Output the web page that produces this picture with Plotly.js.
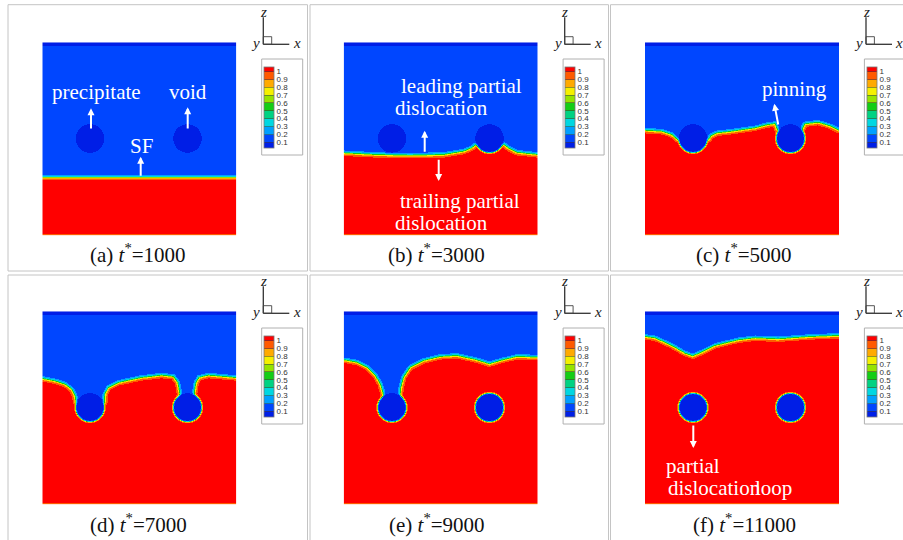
<!DOCTYPE html>
<html><head><meta charset="utf-8">
<script src="https://cdn.plot.ly/plotly-3.0.1.min.js"></script>
<style>html,body{margin:0;padding:0;background:#fff}#chart{width:903px;height:540px}</style>
</head><body><div id="chart"></div>
<script>
// ---------------- data ----------------
const panelLabels = ['(a)', '(b)', '(c)', '(d)', '(e)', '(f)'];
const timeValues = [1000, 3000, 5000, 7000, 9000, 11000];
const levelTicks = [0.1, 0.2, 0.3, 0.4, 0.5, 0.6, 0.7, 0.8, 0.9, 1];
const levelText = ['0.1', '0.2', '0.3', '0.4', '0.5', '0.6', '0.7', '0.8', '0.9', '1'];

// particles (precipitate, void): centre x, centre z, radius (grid units)
const circleX = [48, 145.5];
const circleZ = [96.5, 96.5];
const circleR = [14.4, 14.4];

// dislocation (SF / slipped region) front, x -> z, per panel
const ifaceX_a = [0, 194];
const ifaceZ_a = [57.6, 57.6];
const ifaceX_b = [0, 32.6, 66, 99.3, 119.3, 127.6, 132, 146, 160, 164.3, 172.6, 194];
const ifaceZ_b = [82, 80.3, 79.6, 80.3, 83.6, 87, 90.3, 90.3, 90.3, 87, 82.6, 80.3];
const ifaceX_c = [0, 16.7, 26.7, 31.7, 40, 48, 56, 64, 66, 72, 87, 110, 123, 130, 132, 137, 145, 153, 157.5, 160, 173, 185, 194];
const ifaceZ_c = [104.6, 103.6, 100.3, 96, 92, 92, 92, 96, 99, 102, 103.6, 107, 110.3, 111.3, 106, 100, 98, 100, 106, 111, 112.6, 109, 104.6];
const ifaceX_d = [0, 13, 23, 29.7, 33, 34, 48, 62.5, 63, 66.4, 76.4, 99.7, 119.7, 131.4, 135.7, 137.5, 138.2, 145, 151.8, 152.5, 154, 157, 166.4, 193, 194];
const ifaceZ_d = [125.4, 123, 119.7, 114.7, 108, 101.4, 101, 101.4, 109.7, 116.4, 121.4, 126.4, 128.7, 127.4, 121.4, 111.4, 104, 100, 104, 111.4, 121, 126.5, 128.7, 126.4, 126.4];
const ifaceX_e = [0, 13, 23, 31.3, 36.3, 38.6, 40, 48, 56, 56.5, 57, 59.6, 66.3, 79.6, 96.3, 113, 133, 145.3, 156.3, 173, 194];
const ifaceZ_e = [144, 141.7, 136.7, 128.4, 120, 112, 106, 100, 106, 112, 116.7, 126.7, 136.7, 143.4, 147.4, 148.4, 144, 140, 143.4, 147.4, 146.7];
const ifaceX_f = [0, 10, 26.7, 40, 47.7, 56.7, 70, 93.3, 110, 133.3, 146.7, 166.7, 194];
const ifaceZ_f = [167.4, 166, 158.4, 150.7, 148, 151.7, 158.4, 164, 166, 165, 166, 167.4, 168.4];

// field levels
const phiMatrix = 0.15, phiSlipped = 1.03, phiParticle = 0.06, phiTop = 0.07, phiBottom = 0.95;

// ---------------- construction ----------------
const W = 903, H = 540;
const fx = p => p / W;
const fy = p => 1 - p / H;
const NX = 194, NZ = 193;
const W_IF = 0.9, W_P = 0.42;

function buildField(px, pz) {
  const out = [];
  const n = px.length;
  for (let j = 0; j < NZ; j++) {
    const zc = j + 0.5;
    const row = new Array(NX);
    for (let i = 0; i < NX; i++) {
      const xc = i + 0.5;
      let h = pz[n - 1];
      for (let k = 0; k < n - 1; k++) {
        if (xc >= px[k] && xc <= px[k + 1]) {
          const t = (xc - px[k]) / (px[k + 1] - px[k]);
          h = pz[k] + t * (pz[k + 1] - pz[k]);
          break;
        }
      }
      let dmin = Infinity;
      for (let k = 0; k < n - 1; k++) {
        const ax = px[k], az = pz[k], vx = px[k + 1] - ax, vz = pz[k + 1] - az;
        const L2 = vx * vx + vz * vz;
        let t = ((xc - ax) * vx + (zc - az) * vz) / L2;
        t = Math.max(0, Math.min(1, t));
        const dx = xc - (ax + t * vx), dz = zc - (az + t * vz);
        const d = Math.sqrt(dx * dx + dz * dz);
        if (d < dmin) dmin = d;
      }
      const sd = zc > h ? dmin : -dmin;
      let phi = phiMatrix + (phiSlipped - phiMatrix) / (1 + Math.exp(sd / W_IF));
      for (let c = 0; c < circleX.length; c++) {
        const r = Math.hypot(xc - circleX[c], zc - circleZ[c]);
        const w = 1 / (1 + Math.exp((r - circleR[c]) / W_P));
        phi = phi * (1 - w) + phiParticle * w;
      }
      if (zc > NZ - 4.4) phi = phiTop;
      if (zc < 1.5) phi = phiBottom;
      row[i] = phi;
    }
    out.push(row);
  }
  return out;
}

const zmin = 0.03, zmax = 1.06;
const bandColors = ['rgb(0,30,230)', 'rgb(0,70,255)', 'rgb(0,160,255)', 'rgb(0,215,225)', 'rgb(0,210,130)',
  'rgb(20,205,20)', 'rgb(150,228,0)', 'rgb(245,240,0)', 'rgb(255,170,0)', 'rgb(255,90,0)', 'rgb(255,0,0)'];
function discreteScale() {
  const edges = [zmin].concat(levelTicks).concat([zmax]);
  const s = [];
  for (let k = 0; k < bandColors.length; k++) {
    const a = (edges[k] - zmin) / (zmax - zmin), b = (edges[k + 1] - zmin) / (zmax - zmin);
    s.push([a, bandColors[k]]);
    s.push([b, bandColors[k]]);
  }
  s[0][0] = 0; s[s.length - 1][0] = 1;
  return s;
}
const cscale = discreteScale();

const ifaces = [[ifaceX_a, ifaceZ_a], [ifaceX_b, ifaceZ_b], [ifaceX_c, ifaceZ_c],
                [ifaceX_d, ifaceZ_d], [ifaceX_e, ifaceZ_e], [ifaceX_f, ifaceZ_f]];
const lefts = [42.3, 343.7, 645, 42.3, 343.7, 645];
const tops = [42.3, 42.3, 42.3, 311.3, 311.3, 311.3];
const HM_W = 194, HM_H = 193.2;

const data = [];
const layout = {
  width: W, height: H, margin: {l: 0, r: 0, t: 0, b: 0},
  paper_bgcolor: '#fff', plot_bgcolor: '#fff', showlegend: false,
  shapes: [], annotations: []
};
const serif = '"Liberation Serif"';

for (let p = 0; p < 6; p++) {
  const L = lefts[p], T = tops[p];
  const sfx = p === 0 ? '' : String(p + 1);
  data.push({
    type: 'heatmap', z: buildField(ifaces[p][0], ifaces[p][1]),
    x0: 0.5, dx: 1, y0: 0.5, dy: 1,
    xaxis: 'x' + sfx, yaxis: 'y' + sfx,
    zmin: zmin, zmax: zmax, colorscale: cscale, zsmooth: false, hoverinfo: 'skip',
    showscale: true,
    colorbar: {
      x: fx(L + 221.7), xanchor: 'left', xpad: 0,
      y: fy(T + 24.4), yanchor: 'top', ypad: 0,
      len: 80.6, lenmode: 'pixels', thickness: 10.3, thicknessmode: 'pixels',
      tickmode: 'array', tickvals: levelTicks, ticktext: levelText,
      ticks: 'inside', ticklen: 10.3, tickwidth: 0.7, tickcolor: 'rgba(60,60,60,0.75)',
      tickfont: {family: '"Liberation Sans"', size: 8, color: '#333'},
      outlinecolor: '#777', outlinewidth: 0.8, borderwidth: 0, bgcolor: 'rgba(0,0,0,0)'
    }
  });
  layout['xaxis' + sfx] = {domain: [fx(L), fx(L + HM_W)], range: [0, NX], visible: false, fixedrange: true, anchor: 'y' + sfx};
  layout['yaxis' + sfx] = {domain: [fy(T + HM_H), fy(T)], range: [0, NZ], visible: false, fixedrange: true, anchor: 'x' + sfx};

  // colour-bar frame
  layout.shapes.push({type: 'rect', xref: 'paper', yref: 'paper',
    x0: fx(L + 219.4), x1: fx(L + 260.4), y0: fy(T + 16.7), y1: fy(T + 112.7),
    line: {color: '#b0b0b0', width: 1}});
  // axis triad
  const tri = {color: '#333', width: 1.3};
  layout.shapes.push({type: 'line', xref: 'paper', yref: 'paper', x0: fx(L + 221), x1: fx(L + 221), y0: fy(T - 25), y1: fy(T + 2), line: tri});
  layout.shapes.push({type: 'line', xref: 'paper', yref: 'paper', x0: fx(L + 221), x1: fx(L + 247), y0: fy(T + 2), y1: fy(T + 2), line: tri});
  layout.shapes.push({type: 'rect', xref: 'paper', yref: 'paper', x0: fx(L + 221), x1: fx(L + 229.4), y0: fy(T - 5.6), y1: fy(T + 2), line: {color: '#444', width: 0.9}});
  const tf = {family: serif, size: 15, color: '#222'};
  layout.annotations.push({xref: 'paper', yref: 'paper', x: fx(L + 221), y: fy(T - 30), text: '<i>z</i>', showarrow: false, font: tf, xanchor: 'center', yanchor: 'middle'});
  layout.annotations.push({xref: 'paper', yref: 'paper', x: fx(L + 213.5), y: fy(T + 1), text: '<i>y</i>', showarrow: false, font: tf, xanchor: 'center', yanchor: 'middle'});
  layout.annotations.push({xref: 'paper', yref: 'paper', x: fx(L + 254.4), y: fy(T + 0.5), text: '<i>x</i>', showarrow: false, font: tf, xanchor: 'center', yanchor: 'middle'});
}

// panel frames
const frameCols = [[8, 307.5], [310, 608.5], [610.5, 912]];
const frameRows = [[4.7, 271], [275, 548]];
for (const r of frameRows) for (const c of frameCols) {
  layout.shapes.push({type: 'rect', xref: 'paper', yref: 'paper', x0: fx(c[0]), x1: fx(c[1]), y0: fy(r[0]), y1: fy(r[1]),
    line: {color: '#c4c4c4', width: 1}});
}

// captions
const capX = [138.3, 436.7, 744, 138.3, 437.2, 744.5];
const capY = [253, 253, 253, 523.5, 523.5, 523.5];
for (let p = 0; p < 6; p++) {
  layout.annotations.push({xref: 'paper', yref: 'paper', x: fx(capX[p]), y: fy(capY[p]),
    text: panelLabels[p] + ' <i>t</i><sup>*</sup>=' + timeValues[p], showarrow: false,
    font: {family: serif, size: 21, color: '#111'}, xanchor: 'center', yanchor: 'middle'});
}

// white labels inside the maps
const lf = {family: serif, size: 21, color: '#fff'};
const labels = [
  ['precipitate', 96.7, 91.7, 'center'], ['void', 188.3, 91.7, 'center'], ['SF', 141.3, 145.7, 'center'],
  ['leading partial', 461.7, 86, 'center'], ['dislocation', 441.7, 108.3, 'center'],
  ['trailing partial', 460, 201, 'center'], ['dislocation', 441.7, 222.7, 'center'],
  ['pinning', 794.5, 89.3, 'center'],
  ['partial', 693, 465.5, 'center'], ['dislocation', 666, 488, 'left'], ['loop', 753.3, 488, 'left']
];
for (const l of labels) {
  layout.annotations.push({xref: 'paper', yref: 'paper', x: fx(l[1]), y: fy(l[2]), text: l[0], showarrow: false,
    font: lf, xanchor: l[3], yanchor: 'middle'});
}
// arrows: head x, head y, tail x, tail y
const arrows = [
  [91, 108.3, 91, 130], [187.7, 107.3, 187.7, 130], [140.7, 156.7, 140.7, 177.3],
  [424.7, 130.7, 424.7, 153.3], [438.7, 181, 438.7, 158.3],
  [774.3, 103.8, 778.5, 126],
  [693.3, 448, 693.3, 424]
];
for (const a of arrows) {
  layout.annotations.push({xref: 'paper', yref: 'paper', x: fx(a[0]), y: fy(a[1]), ax: a[2] - a[0], ay: a[3] - a[1],
    text: '', showarrow: true, arrowhead: 2, arrowsize: 0.7, arrowwidth: 2, arrowcolor: '#fff', standoff: 0, startstandoff: 0});
}

Plotly.newPlot('chart', data, layout, {displayModeBar: false, staticPlot: true});
</script></body></html>
